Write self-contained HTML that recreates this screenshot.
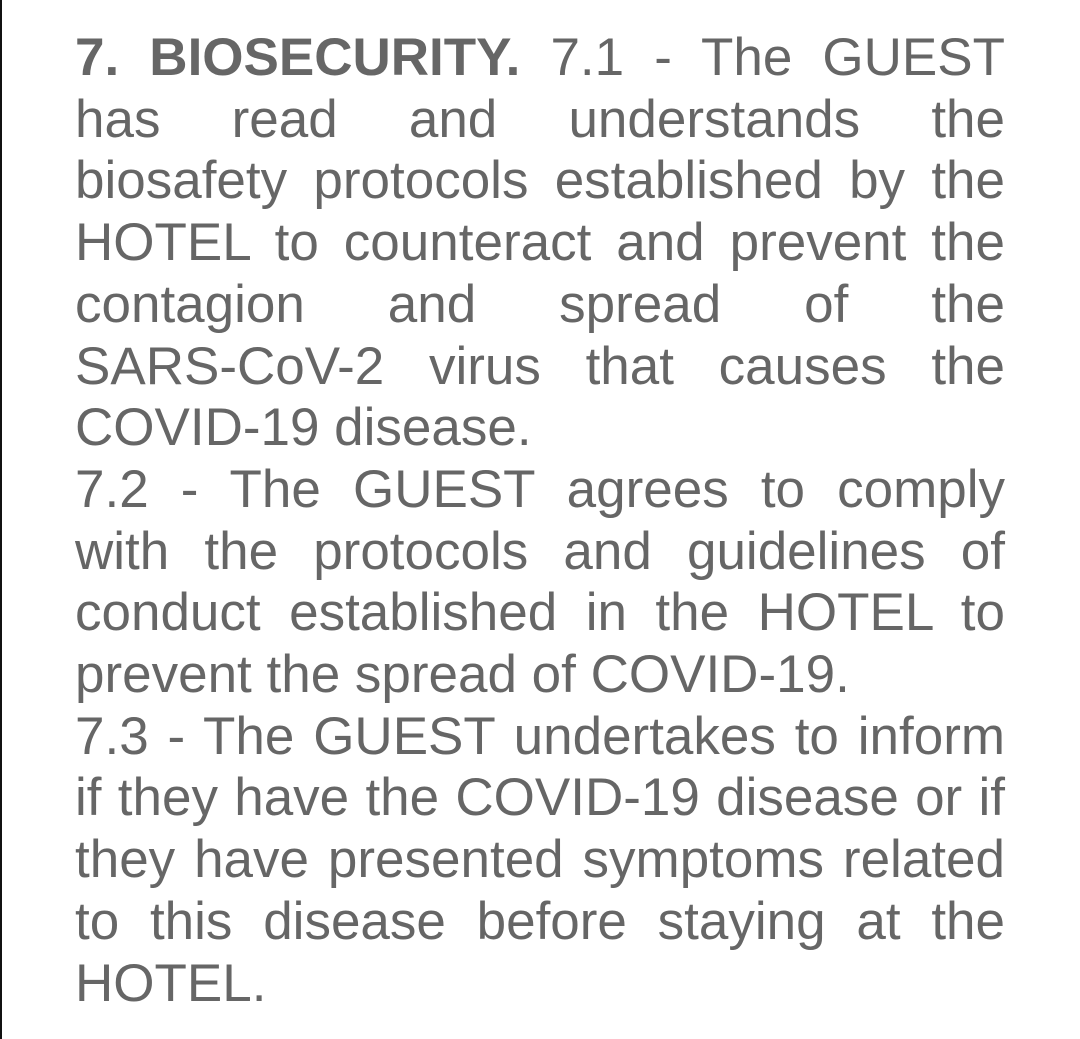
<!DOCTYPE html>
<html><head><meta charset="utf-8"><style>
html,body{margin:0;padding:0;background:#fff;width:1080px;height:1039px;overflow:hidden}
.edge{position:absolute;left:0;top:0;width:2px;height:1039px;background:#111}
.ln{position:absolute;left:75px;width:930px;font-family:"Liberation Sans",Arial,sans-serif;font-size:53px;line-height:61.7px;color:#666;white-space:nowrap;text-align:justify;text-align-last:justify}
.ln.l{text-align:left;text-align-last:left}
b{font-weight:bold}
</style></head><body>
<div class="edge"></div>
<div>
<div class="ln" style="top:27px"><b>7. BIOSECURITY.</b> 7.1 - The GUEST</div>
<div class="ln" style="top:88.7px">has read and understands the</div>
<div class="ln" style="top:150.4px">biosafety protocols established by the</div>
<div class="ln" style="top:212.1px">HOTEL to counteract and prevent the</div>
<div class="ln" style="top:273.8px">contagion and spread of the</div>
<div class="ln" style="top:335.5px">SARS-CoV-2 virus that causes the</div>
<div class="ln l" style="top:397.2px">COVID-19 disease.</div>
<div class="ln" style="top:458.9px">7.2 - The GUEST agrees to comply</div>
<div class="ln" style="top:520.6px">with the protocols and guidelines of</div>
<div class="ln" style="top:582.3px">conduct established in the HOTEL to</div>
<div class="ln l" style="top:644px">prevent the spread of COVID-19.</div>
<div class="ln" style="top:705.7px">7.3 - The GUEST undertakes to inform</div>
<div class="ln" style="top:767.4px">if they have the COVID-19 disease or if</div>
<div class="ln" style="top:829.1px">they have presented symptoms related</div>
<div class="ln" style="top:890.8px">to this disease before staying at the</div>
<div class="ln l" style="top:952.5px">HOTEL.</div>
</div>
</body></html>
